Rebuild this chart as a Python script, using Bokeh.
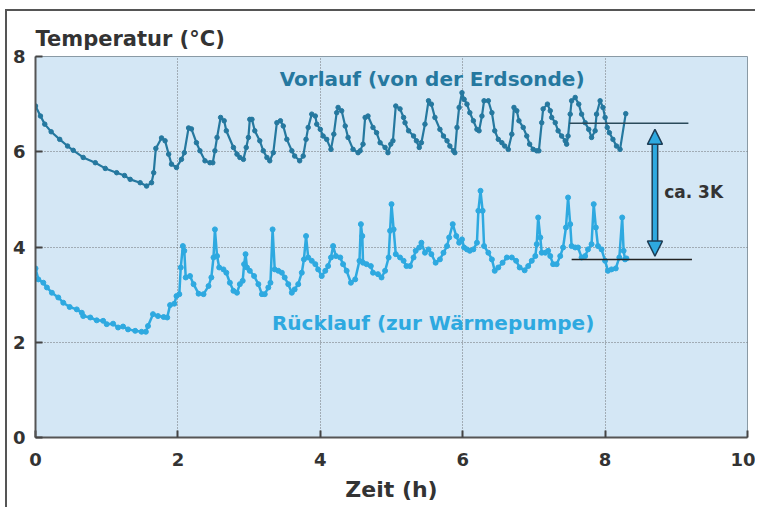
from bokeh.plotting import figure
from bokeh.models import Label, Arrow, NormalHead, FixedTicker
from bokeh.embed import file_html
from bokeh.resources import INLINE

# ---------------- data ----------------
vor_t = [0.00, 0.07, 0.13, 0.22, 0.34, 0.45, 0.53, 0.67, 0.84, 0.98, 1.14, 1.25, 1.33, 1.47, 1.56,
         1.63, 1.66, 1.69, 1.77, 1.82, 1.87, 1.91, 1.98, 2.05, 2.09, 2.15, 2.19, 2.26, 2.31, 2.38,
         2.45, 2.49, 2.52, 2.55, 2.60, 2.65, 2.68, 2.78, 2.83, 2.87, 2.92, 2.96, 2.99, 3.01, 3.04,
         3.08, 3.15, 3.20, 3.25, 3.29, 3.34, 3.39, 3.44, 3.48, 3.53, 3.60, 3.64, 3.71, 3.76, 3.80,
         3.83, 3.88, 3.93, 3.95, 4.00, 4.04, 4.09, 4.15, 4.19, 4.23, 4.25, 4.30, 4.35, 4.39, 4.46,
         4.53, 4.56, 4.60, 4.63, 4.67, 4.74, 4.79, 4.84, 4.91, 4.95, 4.99, 5.02, 5.06, 5.12, 5.17,
         5.19, 5.24, 5.31, 5.35, 5.39, 5.42, 5.47, 5.52, 5.56, 5.61, 5.68, 5.73, 5.78, 5.82, 5.87,
         5.89, 5.92, 5.95, 5.99, 6.02, 6.06, 6.10, 6.15, 6.20, 6.23, 6.27, 6.30, 6.36, 6.41, 6.45,
         6.50, 6.55, 6.59, 6.64, 6.69, 6.72, 6.76, 6.79, 6.85, 6.90, 6.94, 6.99, 7.04, 7.07, 7.11,
         7.13, 7.19, 7.23, 7.25, 7.30, 7.34, 7.39, 7.44, 7.46, 7.48, 7.51, 7.53, 7.58, 7.63, 7.67,
         7.72, 7.77, 7.81, 7.86, 7.88, 7.93, 7.97, 8.00, 8.03, 8.06, 8.11, 8.16, 8.21, 8.29]
vor_v = [6.96, 6.75, 6.58, 6.42, 6.26, 6.12, 6.03, 5.88, 5.77, 5.65, 5.56, 5.50, 5.42, 5.35, 5.28,
         5.35, 5.56, 6.07, 6.29, 6.23, 5.95, 5.74, 5.67, 5.84, 5.98, 6.50, 6.48, 6.19, 6.02, 5.81,
         5.77, 5.77, 6.02, 6.30, 6.72, 6.65, 6.44, 6.09, 5.95, 5.88, 5.84, 6.09, 6.30, 6.68, 6.68,
         6.44, 6.23, 6.02, 5.88, 5.81, 5.98, 6.61, 6.65, 6.54, 6.26, 6.02, 5.91, 5.81, 5.91, 6.26,
         6.51, 6.79, 6.75, 6.58, 6.47, 6.33, 6.26, 6.05, 6.37, 6.82, 6.93, 6.86, 6.54, 6.30, 6.05,
         5.98, 6.02, 6.16, 6.72, 6.75, 6.51, 6.40, 6.19, 6.09, 5.98, 6.16, 6.23, 6.96, 6.90, 6.72,
         6.61, 6.44, 6.33, 6.23, 6.09, 6.19, 6.58, 7.07, 7.00, 6.72, 6.47, 6.33, 6.23, 6.12, 6.02,
         5.98, 6.51, 6.93, 7.24, 7.10, 7.00, 6.82, 6.65, 6.47, 6.44, 6.75, 7.07, 7.07, 6.82, 6.44,
         6.26, 6.19, 6.12, 6.05, 6.37, 6.93, 6.86, 6.65, 6.51, 6.33, 6.16, 6.05, 6.02, 6.02, 6.61,
         6.90, 7.00, 6.86, 6.72, 6.61, 6.44, 6.33, 6.23, 6.16, 6.33, 6.79, 7.07, 7.14, 7.00, 6.79,
         6.61, 6.47, 6.30, 6.44, 6.79, 7.07, 6.93, 6.72, 6.51, 6.40, 6.26, 6.12, 6.05, 6.80]

rue_t = [0.00, 0.04, 0.11, 0.16, 0.23, 0.32, 0.39, 0.48, 0.58, 0.65, 0.67, 0.77, 0.86, 0.95, 1.00,
         1.09, 1.16, 1.23, 1.30, 1.40, 1.49, 1.55, 1.58, 1.65, 1.72, 1.80, 1.85, 1.89, 1.95, 1.98,
         2.02, 2.04, 2.07, 2.09, 2.11, 2.17, 2.22, 2.29, 2.36, 2.43, 2.47, 2.50, 2.52, 2.55, 2.58,
         2.64, 2.68, 2.73, 2.78, 2.83, 2.87, 2.91, 2.93, 2.95, 2.97, 3.01, 3.07, 3.13, 3.18, 3.22,
         3.27, 3.30, 3.33, 3.36, 3.41, 3.46, 3.50, 3.55, 3.60, 3.64, 3.69, 3.74, 3.77, 3.80, 3.83,
         3.88, 3.93, 3.97, 4.02, 4.07, 4.11, 4.15, 4.18, 4.22, 4.28, 4.32, 4.37, 4.43, 4.49, 4.55,
         4.57, 4.59, 4.60, 4.65, 4.71, 4.74, 4.81, 4.86, 4.91, 4.96, 4.98, 5.00, 5.03, 5.06, 5.12,
         5.17, 5.21, 5.26, 5.31, 5.34, 5.39, 5.42, 5.47, 5.52, 5.56, 5.62, 5.68, 5.73, 5.78, 5.81,
         5.86, 5.91, 5.95, 5.99, 6.02, 6.06, 6.10, 6.15, 6.20, 6.22, 6.25, 6.28, 6.30, 6.36, 6.41,
         6.45, 6.50, 6.56, 6.62, 6.69, 6.75, 6.80, 6.87, 6.92, 6.97, 7.02, 7.04, 7.06, 7.09, 7.11,
         7.16, 7.20, 7.23, 7.27, 7.32, 7.37, 7.41, 7.45, 7.48, 7.51, 7.53, 7.58, 7.62, 7.67, 7.72,
         7.76, 7.81, 7.84, 7.87, 7.90, 7.95, 8.00, 8.04, 8.09, 8.15, 8.20, 8.24, 8.26, 8.28, 8.30]
rue_v = [3.55, 3.32, 3.25, 3.15, 3.04, 2.94, 2.83, 2.74, 2.69, 2.62, 2.55, 2.52, 2.46, 2.45, 2.38,
         2.39, 2.31, 2.33, 2.27, 2.24, 2.22, 2.22, 2.34, 2.59, 2.55, 2.53, 2.52, 2.78, 2.81, 2.97,
         3.01, 3.57, 4.02, 3.92, 3.36, 3.39, 3.22, 3.02, 3.01, 3.18, 3.36, 3.78, 4.37, 3.81, 3.57,
         3.53, 3.46, 3.25, 3.08, 3.04, 3.22, 3.29, 3.64, 3.85, 3.57, 3.50, 3.39, 3.22, 3.01, 3.01,
         3.15, 3.25, 4.37, 3.53, 3.50, 3.46, 3.36, 3.22, 3.04, 3.11, 3.22, 3.46, 3.74, 4.23, 3.78,
         3.71, 3.64, 3.53, 3.39, 3.50, 3.60, 3.78, 4.02, 3.81, 3.78, 3.64, 3.50, 3.25, 3.32, 3.71,
         4.48, 4.23, 3.67, 3.64, 3.60, 3.46, 3.43, 3.36, 3.50, 3.78, 4.34, 4.90, 4.37, 3.85, 3.78,
         3.71, 3.60, 3.60, 3.78, 3.92, 3.99, 4.09, 3.88, 3.95, 3.85, 3.67, 3.74, 3.88, 4.02, 4.20,
         4.48, 4.23, 4.09, 4.16, 3.99, 3.95, 3.92, 3.95, 4.09, 4.76, 5.18, 4.76, 4.02, 3.88, 3.74,
         3.50, 3.57, 3.67, 3.78, 3.78, 3.71, 3.57, 3.51, 3.60, 3.71, 3.81, 4.06, 4.62, 4.20, 3.88,
         3.88, 3.92, 3.81, 3.64, 3.64, 3.81, 3.99, 4.41, 5.04, 4.48, 4.02, 3.99, 3.99, 3.78, 3.81,
         3.95, 4.06, 4.90, 4.41, 4.02, 3.95, 3.71, 3.50, 3.53, 3.55, 3.78, 4.62, 3.92, 3.74, 3.76]

x_ticks = [0, 2, 4, 6, 8, 10]
y_ticks = [0, 2, 4, 6, 8]

# annotation values
vor_level = 6.6
vor_level_t = (7.50, 9.17)
rue_level = 3.74
rue_level_t = (7.53, 9.22)
arrow_t = 8.70
arrow_top = 6.47
arrow_bottom = 3.81

title_text = "Temperatur (°C)"
x_label = "Zeit (h)"
vor_label = "Vorlauf (von der Erdsonde)"
rue_label = "Rücklauf (zur Wärmepumpe)"
delta_label = "ca. 3K"

# ---------------- styling ----------------
VOR_COL = "#25789f"
RUE_COL = "#2ea9e0"
DARK = "#333333"
FONT = "DejaVu Sans"

p = figure(width=750, height=498, x_range=(0, 10), y_range=(0, 8),
           output_backend="svg", toolbar_location=None,
           title=title_text, title_location="above",
           min_border_left=28, min_border_right=10, min_border_top=45, min_border_bottom=72,
           background_fill_color="#d4e7f5", border_fill_color="white")
p.styles = {"margin-left": "5px", "margin-top": "9px",
            "border-left": "2px solid #555555", "border-top": "2px solid #555555"}

p.title.align = "left"
p.title.text_font = FONT
p.title.text_font_style = "bold"
p.title.text_font_size = "21px"
p.title.text_color = DARK
p.title.standoff = 12
p.title.offset = 0

p.outline_line_color = "#8a9aa5"
p.outline_line_width = 1

# axes
for ax in (p.xaxis[0], p.yaxis[0]):
    ax.axis_line_color = "#555555"
    ax.axis_line_width = 2
    ax.major_tick_in = 7
    ax.major_tick_out = 0
    ax.major_tick_line_color = "#444444"
    ax.major_tick_line_width = 2
    ax.minor_tick_line_color = None
    ax.major_label_text_font = FONT
    ax.major_label_text_font_style = "bold"
    ax.major_label_text_font_size = "18px"
    ax.major_label_text_color = DARK

p.xaxis.ticker = FixedTicker(ticks=x_ticks)
p.yaxis.ticker = FixedTicker(ticks=y_ticks)
p.xaxis.major_label_standoff = 15
p.yaxis.major_label_standoff = 10
p.xaxis.axis_label = x_label
p.xaxis.axis_label_text_font = FONT
p.xaxis.axis_label_text_font_style = "bold"
p.xaxis.axis_label_text_font_size = "22px"
p.xaxis.axis_label_text_color = DARK
p.xaxis.axis_label_standoff = 8

p.xgrid.ticker = FixedTicker(ticks=[2, 4, 6, 8])
p.ygrid.ticker = FixedTicker(ticks=[2, 4, 6])
for g in (p.xgrid[0], p.ygrid[0]):
    g.grid_line_color = "#555555"
    g.grid_line_dash = "1 2"
    g.grid_line_width = 1
    g.grid_line_alpha = 0.8

# series
p.line(vor_t, vor_v, line_color=VOR_COL, line_width=2.2)
p.scatter(vor_t, vor_v, size=4.5, color=VOR_COL)
p.line(rue_t, rue_v, line_color=RUE_COL, line_width=2.5)
p.scatter(rue_t, rue_v, size=5, color=RUE_COL)

# level lines
p.line(list(vor_level_t), [vor_level, vor_level], line_color="#2a4a5a", line_width=1.5)
p.line(list(rue_level_t), [rue_level, rue_level], line_color="#222222", line_width=1.5)

# double arrow
p.add_layout(Arrow(x_start=arrow_t, y_start=arrow_bottom + 0.25, x_end=arrow_t, y_end=arrow_top - 0.25,
                   end=None, line_color="#1d3d55", line_width=7))
p.add_layout(Arrow(x_start=arrow_t, y_start=arrow_bottom + 0.25, x_end=arrow_t, y_end=arrow_top - 0.25,
                   end=None, line_color=RUE_COL, line_width=4))
head = dict(size=15, fill_color=RUE_COL, line_color="#1d3d55", line_width=1.5)
p.add_layout(Arrow(x_start=arrow_t, y_start=arrow_bottom, x_end=arrow_t, y_end=arrow_top,
                   start=NormalHead(**head), end=NormalHead(**head), line_alpha=0))

# texts
p.add_layout(Label(x=3.43, y=7.53, text=vor_label, text_baseline="middle",
                   text_font=FONT, text_font_style="bold", text_font_size="20px", text_color=VOR_COL))
p.add_layout(Label(x=3.32, y=2.40, text=rue_label, text_baseline="middle",
                   text_font=FONT, text_font_style="bold", text_font_size="20px", text_color=RUE_COL))
p.add_layout(Label(x=8.83, y=5.15, text=delta_label, text_baseline="middle",
                   text_font=FONT, text_font_style="bold", text_font_size="17px", text_color=DARK))

open("out.html", "w").write(file_html(p, INLINE))
